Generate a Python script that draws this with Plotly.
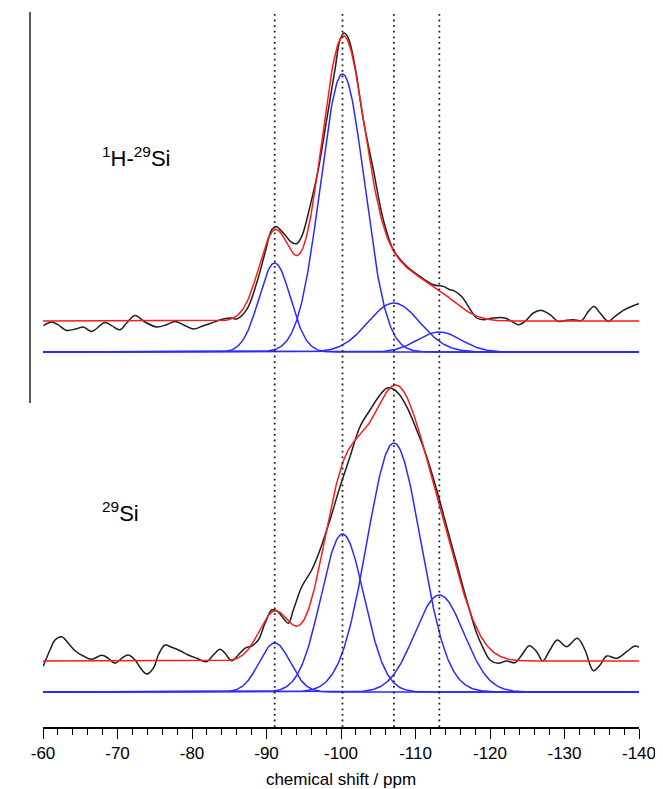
import numpy as np
import plotly.graph_objects as go

# ---------------- data ----------------
# Peak positions (ppm) marked by dotted lines
peak_positions = [-91.1, -100.2, -107.1, -113.2]

# Fitted Gaussian components: centre (ppm), height (a.u.), sigma (ppm)
top_centres = [-91.1, -100.2, -107.1, -113.2]
top_heights = [89, 278, 49, 20]
top_sigmas = [2.12, 2.95, 3.49, 2.91]

bot_centres = [-91.1, -100.2, -107.1, -113.2]
bot_heights = [49, 158, 249, 97]
bot_sigmas = [2.09, 2.89, 3.6, 3.3]

# Experimental 1H-29Si CP spectrum (ppm, intensity a.u.)
top_exp_ppm = [-60.04, -61.17, -62.01, -63.18, -64.52, -65.41, -66.54, -68.32, -69.22, -70.34,
               -71.23, -72.35, -73.69, -75.26, -76.60, -77.72, -78.83, -80.17, -81.52, -82.86,
               -84.20, -85.33, -86.00, -87.34, -88.68, -89.80, -90.70, -91.28, -92.26, -93.38,
               -94.05, -94.73, -95.84, -96.95, -98.08, -99.19, -99.87, -100.40, -100.98, -101.88,
               -102.99, -104.34, -105.68, -107.02, -108.82, -110.60, -112.39, -113.73, -114.63, -115.07,
               -116.20, -117.09, -118.21, -119.10, -120.44, -122.01, -122.91, -123.80, -124.70, -125.81,
               -126.94, -128.05, -129.17, -130.07, -131.18, -132.31, -133.19, -133.96, -134.77, -135.88,
               -136.78, -137.89, -139.23, -140.0]
top_exp_int = [-4.7, -1.0, -3.7, -9.4, -7.7, -6.0, -10.4, -1.4, -4.7, -8.7,
               -2.0, 5.6, -1.0, -6.0, -3.7, -0.4, -3.7, -8.0, -4.7, -1.4,
               2.0, 3.0, 2.0, 11.3, 38.0, 68.0, 91.3, 94.6, 88.0, 78.6,
               77.3, 84.6, 114.6, 151.3, 201.3, 251.3, 281.3, 288.0, 283.0, 254.6,
               201.3, 151.3, 101.3, 71.3, 54.6, 44.6, 36.3, 34.6, 31.3, 30.6,
               24.6, 14.6, 3.0, 1.3, 3.0, 3.0, -0.4, -3.7, -0.4, 8.0,
               10.6, 6.3, -0.4, 0.6, 1.3, 0.6, 9.6, 14.6, 8.0, -0.4,
               4.6, 10.6, 15.3, 17.3]

# Experimental 29Si MAS spectrum (ppm, intensity a.u.)
bot_exp_ppm = [-60.04, -60.94, -61.61, -62.51, -63.40, -64.30, -65.41, -66.54, -67.88, -68.77,
               -69.66, -70.56, -71.45, -72.35, -73.02, -73.92, -74.81, -75.48, -76.38, -77.28,
               -78.39, -79.50, -80.63, -81.97, -82.86, -83.76, -84.43, -85.33, -86.21, -87.11,
               -88.01, -88.90, -89.80, -90.70, -91.37, -92.26, -92.93, -93.60, -94.73, -96.07,
               -97.18, -98.52, -99.87, -101.21, -102.55, -103.89, -105.23, -106.13, -106.81, -107.69,
               -108.82, -110.16, -111.50, -112.85, -114.19, -115.53, -116.87, -118.21, -119.10, -120.00,
               -121.11, -122.24, -123.36, -124.26, -125.28, -126.27, -127.07, -128.05, -129.03, -130.30,
               -131.72, -132.75, -133.87, -134.77, -135.66, -137.00, -138.35, -139.46, -140.0]
bot_exp_int = [-5.0, 11.0, 21.0, 24.3, 17.7, 10.3, 5.0, 1.7, 5.7, 2.7,
               -2.3, 2.7, 6.0, 1.0, -6.3, -13.0, -7.3, 6.0, 16.0, 13.7,
               10.3, 6.0, 2.7, -0.7, 6.0, 11.7, 7.7, 0.3, 6.0, 12.7,
               15.0, 21.0, 37.7, 51.0, 50.3, 42.7, 37.7, 51.0, 74.3, 91.0,
               111.0, 141.0, 174.3, 204.3, 234.3, 251.0, 266.0, 272.7, 272.7, 267.7,
               254.3, 231.0, 204.3, 171.0, 134.3, 97.7, 61.0, 27.7, 12.7, 1.0,
               -2.3, 0.0, -1.7, 6.0, 15.3, 9.3, 0.0, 11.0, 21.0, 14.3,
               22.7, 11.0, -9.7, -4.0, 5.0, 2.7, 9.3, 15.0, 13.7]

x_tick_vals = [-60, -70, -80, -90, -100, -110, -120, -130, -140]
x_tick_text = ["-60", "-70", "-80", "-90", "-100", "-110", "-120", "-130", "-140"]

# ---------------- display layout constants ----------------
TOP_COMP_BASE = 375
TOP_SPEC_BASE = 406
BOT_COMP_BASE = 35
BOT_SPEC_BASE = 66

BLACK = "#1e1e1e"
RED = "#ff1a1a"
BLUE = "#2a2aff"
LW = 1.5
FONT = "Liberation Sans, Arial, Helvetica"

grid = np.linspace(-60, -140, 801)


def gauss(c, h, s):
    return h * np.exp(-0.5 * ((grid - c) / s) ** 2)


fig = go.Figure()

for centres, heights, sigmas, cbase, sbase, eppm, eint in [
    (top_centres, top_heights, top_sigmas, TOP_COMP_BASE, TOP_SPEC_BASE, top_exp_ppm, top_exp_int),
    (bot_centres, bot_heights, bot_sigmas, BOT_COMP_BASE, BOT_SPEC_BASE, bot_exp_ppm, bot_exp_int),
]:
    comps = [gauss(c, h, s) for c, h, s in zip(centres, heights, sigmas)]
    for comp in comps:
        fig.add_trace(go.Scatter(x=grid, y=comp + cbase, mode="lines",
                                 line=dict(color=BLUE, width=LW), hoverinfo="skip", showlegend=False))
    fig.add_trace(go.Scatter(x=eppm, y=np.array(eint) + sbase, mode="lines",
                             line=dict(color=BLACK, width=LW, shape="spline", smoothing=1.0),
                             hoverinfo="skip", showlegend=False))
    fig.add_trace(go.Scatter(x=grid, y=np.sum(comps, axis=0) + sbase, mode="lines",
                             line=dict(color=RED, width=LW), hoverinfo="skip", showlegend=False))

# dotted marker lines
for p in peak_positions:
    fig.add_shape(type="line", xref="x", yref="paper", x0=p, x1=p, y0=0, y1=1,
                  line=dict(color="#222222", width=1.8, dash="1.8px,3.8px"), layer="above")

# vertical bar at left
fig.add_shape(type="line", xref="paper", yref="paper", x0=-0.0218, x1=-0.0218, y0=0.453, y1=1.0,
              line=dict(color="black", width=1.3))

fig.add_annotation(text="<sup>1</sup>H-<sup>29</sup>Si", xref="paper", yref="paper",
                   x=0.096, y=0.797, xanchor="left", yanchor="middle", showarrow=False,
                   font=dict(size=22, color="black", family=FONT))
fig.add_annotation(text="<sup>29</sup>Si", xref="paper", yref="paper",
                   x=0.096, y=0.300, xanchor="left", yanchor="middle", showarrow=False,
                   font=dict(size=22, color="black", family=FONT))

# page body has an 8px default margin, so the figure is 8px smaller than the window
fig.update_layout(
    width=655, height=781,
    margin=dict(l=35, r=24, t=4, b=62),
    paper_bgcolor="white", plot_bgcolor="white",
    font=dict(family=FONT, color="black", size=17),
    xaxis=dict(range=[-60, -140], tickvals=x_tick_vals, ticktext=x_tick_text,
               ticks="outside", ticklen=10, tickwidth=1.3, tickcolor="black",
               showline=True, linecolor="black", linewidth=1.5, showgrid=False, zeroline=False,
               tickfont=dict(size=17),
               minor=dict(dtick=2, ticks="outside", ticklen=6, tickwidth=1.2, tickcolor="black", showgrid=False),
               title=dict(text="chemical shift / ppm", font=dict(size=17), standoff=15),
               automargin=False),
    yaxis=dict(range=[0, 715], visible=False, showgrid=False, zeroline=False),
    showlegend=False,
)

fig.write_html("out.html")
